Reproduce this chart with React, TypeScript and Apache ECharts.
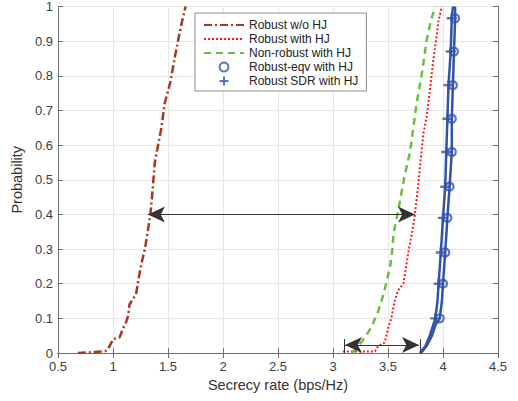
import React, { useEffect, useRef } from "react";
import * as echarts from "echarts";

// ---- Data (x: secrecy rate, y: probability) ----
const woHjX = [0.68, 0.8, 0.93, 0.97, 1.0, 1.06, 1.09, 1.12, 1.14, 1.15, 1.19, 1.21, 1.23, 1.26, 1.29, 1.32, 1.34, 1.36, 1.38, 1.41, 1.44, 1.47, 1.52, 1.56, 1.59, 1.63, 1.66];
const woHjY = [0, 0.002, 0.005, 0.02, 0.04, 0.045, 0.07, 0.09, 0.11, 0.14, 0.16, 0.17, 0.21, 0.26, 0.3, 0.36, 0.4, 0.47, 0.55, 0.6, 0.65, 0.72, 0.78, 0.85, 0.9, 0.96, 1.0];

const withHjX = [3.09, 3.2, 3.38, 3.41, 3.47, 3.5, 3.53, 3.56, 3.59, 3.64, 3.67, 3.69, 3.72, 3.74, 3.77, 3.79, 3.82, 3.85, 3.87, 3.91, 3.96, 3.99];
const withHjY = [0.004, 0.004, 0.004, 0.02, 0.03, 0.07, 0.1, 0.15, 0.18, 0.2, 0.26, 0.3, 0.35, 0.39, 0.47, 0.535, 0.63, 0.68, 0.73, 0.84, 0.96, 1.0];

const nonRobX = [3.17, 3.19, 3.23, 3.29, 3.35, 3.41, 3.46, 3.49, 3.52, 3.54, 3.55, 3.58, 3.61, 3.65, 3.7, 3.73, 3.76, 3.81, 3.85, 3.89, 3.93];
const nonRobY = [0, 0.005, 0.02, 0.045, 0.075, 0.12, 0.17, 0.21, 0.25, 0.3, 0.345, 0.39, 0.44, 0.51, 0.58, 0.65, 0.72, 0.81, 0.9, 0.96, 1.0];

const eqvX = [3.8, 3.85, 3.9, 3.93, 3.97, 3.99, 4.0, 4.02, 4.04, 4.06, 4.08, 4.08, 4.09, 4.1, 4.11, 4.11];
const eqvY = [0, 0.02, 0.05, 0.08, 0.1, 0.15, 0.2, 0.29, 0.39, 0.48, 0.58, 0.676, 0.773, 0.87, 0.966, 1.0];

const sdrX = [3.79, 3.84, 3.88, 3.91, 3.93, 3.95, 3.96, 3.98, 4.0, 4.02, 4.03, 4.04, 4.05, 4.07, 4.08, 4.09];
const sdrY = [0, 0.02, 0.05, 0.08, 0.1, 0.15, 0.2, 0.29, 0.39, 0.48, 0.58, 0.676, 0.773, 0.87, 0.966, 1.0];

// marker positions (every ~0.097 in probability)
const markerY = [0.1, 0.2, 0.29, 0.39, 0.48, 0.58, 0.676, 0.773, 0.87, 0.966];
const eqvMarkX = [3.97, 4.0, 4.02, 4.04, 4.06, 4.08, 4.08, 4.09, 4.1, 4.11];
const sdrMarkX = [3.93, 3.96, 3.98, 4.0, 4.02, 4.03, 4.04, 4.05, 4.07, 4.08];

// annotation arrows (data coordinates)
const arrowA = [[1.318, 0.4], [3.745, 0.4]];
const arrowB = [[3.109, 0.023], [3.782, 0.023]];
const barsB = [[[3.098, 0.0], [3.098, 0.04]], [[3.79, 0.0], [3.79, 0.04]]];

const xTicks = { min: 0.5, max: 4.5, interval: 0.5 };
const yTicks = { min: 0, max: 1, interval: 0.1 };

const names = ["Robust w/o HJ", "Robust with HJ", "Non-robust with HJ", "Robust-eqv with HJ", "Robust SDR with HJ"];

const FONT = '"Liberation Sans", Arial, sans-serif';
const BLUE = "#3153a8";

const zip = (xs: number[], ys: number[]) => xs.map((x, i) => [x, ys[i]]);

export default function App() {
  const ref = useRef<HTMLDivElement>(null);
  useEffect(() => {
    document.body.style.margin = "0";
    const chart = echarts.init(ref.current!, undefined, { renderer: "svg" });
    const axisLine = { show: true, lineStyle: { color: "#6e6e6e", width: 1 } };
    const axisTick = { show: true, inside: true, length: 5, lineStyle: { color: "#6e6e6e" } };
    const label = { fontSize: 13, color: "#404040", fontFamily: FONT };
    const plus = "path://M0,5L10,5M5,0L5,10";
    const hiddenSym = { color: "rgba(0,0,0,0)", borderWidth: 0 };
    chart.setOption({
      animation: false,
      backgroundColor: "#ffffff",
      grid: { left: 58, right: 20, top: 5, bottom: 48 },
      legend: {
        data: [
          { name: names[0], itemStyle: hiddenSym },
          { name: names[1], itemStyle: hiddenSym },
          { name: names[2], itemStyle: hiddenSym },
          { name: names[3] },
          { name: names[4] },
        ],
        orient: "vertical",
        left: 195,
        top: 13,
        itemWidth: 40,
        itemHeight: 9,
        itemGap: 2,
        padding: [6, 8, 4, 8],
        backgroundColor: "#ffffff",
        borderColor: "#8c8c8c",
        borderWidth: 1,
        borderRadius: 0,
        textStyle: { fontSize: 12, color: "#222", fontFamily: FONT },
      },
      xAxis: [
        {
          type: "value",
          ...xTicks,
          position: "bottom",
          axisLine,
          axisTick,
          axisLabel: { ...label, margin: 7 },
          splitLine: { show: true, lineStyle: { color: "#e6e6e6" } },
          name: "Secrecy rate (bps/Hz)",
          nameLocation: "middle",
          nameGap: 23,
          nameTextStyle: { fontSize: 14.5, color: "#333", fontFamily: FONT },
        },
        {
          type: "value",
          ...xTicks,
          position: "top",
          axisLine,
          axisTick,
          axisLabel: { show: false },
          splitLine: { show: false },
        },
      ],
      yAxis: [
        {
          type: "value",
          ...yTicks,
          position: "left",
          axisLine,
          axisTick,
          axisLabel: { ...label, margin: 5 },
          splitLine: { show: true, lineStyle: { color: "#e6e6e6" } },
          name: "Probability",
          nameLocation: "middle",
          nameGap: 30,
          nameTextStyle: { fontSize: 14.5, color: "#333", fontFamily: FONT },
        },
        {
          type: "value",
          ...yTicks,
          position: "right",
          axisLine,
          axisTick,
          axisLabel: { show: false },
          splitLine: { show: false },
        },
      ],
      series: [
        {
          name: names[0],
          type: "line",
          data: zip(woHjX, woHjY),
          symbol: "none",
          lineStyle: { color: "#a8361c", width: 2.5, type: [8, 3, 2, 3] },
          itemStyle: { color: "#a8361c" },
          markLine: {
            silent: true,
            symbol: ["arrow", "arrow"],
            symbolSize: [12, 17],
            lineStyle: { color: "#333", width: 1, type: "solid" },
            itemStyle: { color: "#111" },
            label: { show: false },
            data: [
              [{ coord: arrowA[0] }, { coord: arrowA[1] }],
              [{ coord: arrowB[0] }, { coord: arrowB[1] }],
            ],
          },
        },
        {
          name: names[1],
          type: "line",
          data: zip(withHjX, withHjY),
          symbol: "none",
          lineStyle: { color: "#ff1a1a", width: 2, type: [2, 2] },
          itemStyle: { color: "#ff1a1a" },
          markLine: {
            silent: true,
            symbol: ["none", "none"],
            lineStyle: { color: "#333", width: 1, type: "solid" },
            label: { show: false },
            data: barsB.map((b) => [{ coord: b[0] }, { coord: b[1] }]),
          },
        },
        {
          name: names[2],
          type: "line",
          data: zip(nonRobX, nonRobY),
          symbol: "none",
          lineStyle: { color: "#66bf3f", width: 2.5, type: [7, 5] },
          itemStyle: { color: "#66bf3f" },
        },
        {
          name: "eqvLine",
          type: "line",
          data: zip(eqvX, eqvY),
          symbol: "none",
          lineStyle: { color: BLUE, width: 2.5 },
        },
        {
          name: "sdrLine",
          type: "line",
          data: zip(sdrX, sdrY),
          symbol: "none",
          lineStyle: { color: BLUE, width: 2.5 },
        },
        {
          name: names[3],
          type: "scatter",
          data: zip(eqvMarkX, markerY),
          symbol: "circle",
          symbolSize: 8,
          itemStyle: { color: "rgba(0,0,0,0)", borderColor: BLUE, borderWidth: 2.2 },
        },
        {
          name: names[4],
          type: "scatter",
          data: zip(sdrMarkX, markerY),
          symbol: plus,
          symbolSize: 10,
          itemStyle: { color: BLUE, borderColor: BLUE, borderWidth: 2.4 },
        },
      ],
    });
    return () => chart.dispose();
  }, []);
  return <div ref={ref} style={{ width: 518, height: 401 }} />;
}
